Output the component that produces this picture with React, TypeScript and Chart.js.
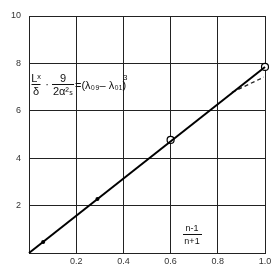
import React, { useEffect, useRef } from "react";
import { Chart, registerables } from "chart.js";

Chart.register(...registerables);

const xTicks = [0, 0.2, 0.4, 0.6, 0.8, 1.0];
const yTicks = [0, 2, 4, 6, 8, 10];
const mainLineX = [0, 1.0];
const mainLineY = [0, 7.85];
const dashX = [0.86, 0.995];
const dashY = [6.78, 7.42];
const circleX = [0.6, 1.0];
const circleY = [4.77, 7.85];
const dotX = [0.06, 0.29];
const dotY = [0.46, 2.28];

const pts = (xs: number[], ys: number[]) => xs.map((x, i) => ({ x, y: ys[i] }));

const FONT = "'Liberation Sans', 'DejaVu Sans', sans-serif";

const annotationPlugin = {
  id: "annot",
  afterDraw(chart: any) {
    const ctx = chart.ctx as CanvasRenderingContext2D;
    ctx.save();
    ctx.fillStyle = "#111";
    ctx.strokeStyle = "#111";
    ctx.lineWidth = 1;
    ctx.textBaseline = "alphabetic";
    ctx.textAlign = "center";
    const frac = (num: string, den: string, cx: number, barY: number, w: number) => {
      ctx.font = `11px ${FONT}`;
      ctx.fillText(num, cx, barY - 2);
      ctx.beginPath();
      ctx.moveTo(cx - w / 2, barY + 0.5);
      ctx.lineTo(cx + w / 2, barY + 0.5);
      ctx.stroke();
      ctx.fillText(den, cx, barY + 11);
    };
    // formula
    frac("L\u02E3", "\u03B4", 36, 84, 9);
    ctx.font = `11px ${FONT}`;
    ctx.fillText("\u00B7", 47, 88);
    frac("9", "2\u03B1\u00B2\u209B", 63, 84, 22);
    ctx.textAlign = "left";
    ctx.font = `11px ${FONT}`;
    ctx.fillText("=(\u03BB\u2080\u2089\u2013 \u03BB\u2080\u2081)", 75, 89);
    ctx.font = `8px ${FONT}`;
    ctx.fillText("3", 123, 80);
    // n-1 / n+1
    ctx.textAlign = "center";
    ctx.font = `9px ${FONT}`;
    ctx.fillText("n-1", 192, 231);
    ctx.beginPath();
    ctx.moveTo(183, 234.5);
    ctx.lineTo(202, 234.5);
    ctx.stroke();
    ctx.fillText("n+1", 192, 244);
    ctx.restore();
  },
};

export default function App() {
  const ref = useRef<HTMLCanvasElement | null>(null);
  useEffect(() => {
    if (!ref.current) return;
    const chart = new Chart(ref.current, {
      type: "scatter",
      data: {
        datasets: [
          {
            data: pts(mainLineX, mainLineY),
            showLine: true,
            borderColor: "#000",
            borderWidth: 2,
            pointRadius: 0,
            clip: false,
          } as any,
          {
            data: pts(dashX, dashY),
            showLine: true,
            borderColor: "#222",
            borderWidth: 1.3,
            borderDash: [4, 3],
            pointRadius: 0,
            clip: false,
          } as any,
          {
            data: pts(circleX, circleY),
            showLine: false,
            pointRadius: 3.5,
            pointBorderWidth: 1.2,
            pointBorderColor: "#000",
            pointBackgroundColor: "#fff",
            clip: false,
          } as any,
          {
            data: pts(circleX, circleY),
            showLine: false,
            pointRadius: 1.2,
            pointBorderWidth: 0,
            pointBackgroundColor: "#000",
            clip: false,
          } as any,
          {
            data: pts(dotX, dotY),
            showLine: false,
            pointRadius: 2,
            pointBorderWidth: 0,
            pointBackgroundColor: "#000",
            clip: false,
          } as any,
        ],
      },
      options: {
        animation: false,
        responsive: false,
        maintainAspectRatio: false,
        layout: { padding: { top: 16, right: 14, left: 0, bottom: 0 } },
        plugins: { legend: { display: false }, tooltip: { enabled: false } },
        scales: {
          x: {
            type: "linear",
            min: 0,
            max: 1,
            afterBuildTicks: (s: any) => {
              s.ticks = xTicks.map((v) => ({ value: v }));
            },
            afterFit: (s: any) => {
              s.height = 18;
            },
            ticks: {
              color: "#333",
              font: { family: FONT, size: 9 },
              padding: 3,
              maxRotation: 0,
              callback: (v: any) => (Number(v) === 0 ? "" : Number(v).toFixed(1)),
            },
            grid: { color: "#222", lineWidth: 1, drawTicks: false },
            border: { color: "#222", width: 1 },
          },
          y: {
            type: "linear",
            min: 0,
            max: 10,
            afterBuildTicks: (s: any) => {
              s.ticks = yTicks.map((v) => ({ value: v }));
            },
            afterFit: (s: any) => {
              s.width = 29;
            },
            ticks: {
              color: "#333",
              font: { family: FONT, size: 9 },
              padding: 8,
              callback: (v: any) => (Number(v) === 0 ? "" : String(v)),
            },
            grid: { color: "#222", lineWidth: 1, drawTicks: false },
            border: { color: "#222", width: 1 },
          },
        },
      } as any,
      plugins: [annotationPlugin],
    });
    return () => chart.destroy();
  }, []);
  return (
    <div style={{ position: "fixed", left: 0, top: 0, width: 279, height: 271, background: "#fff" }}>
      <canvas ref={ref} width={279} height={271} style={{ width: 279, height: 271 }} />
    </div>
  );
}
